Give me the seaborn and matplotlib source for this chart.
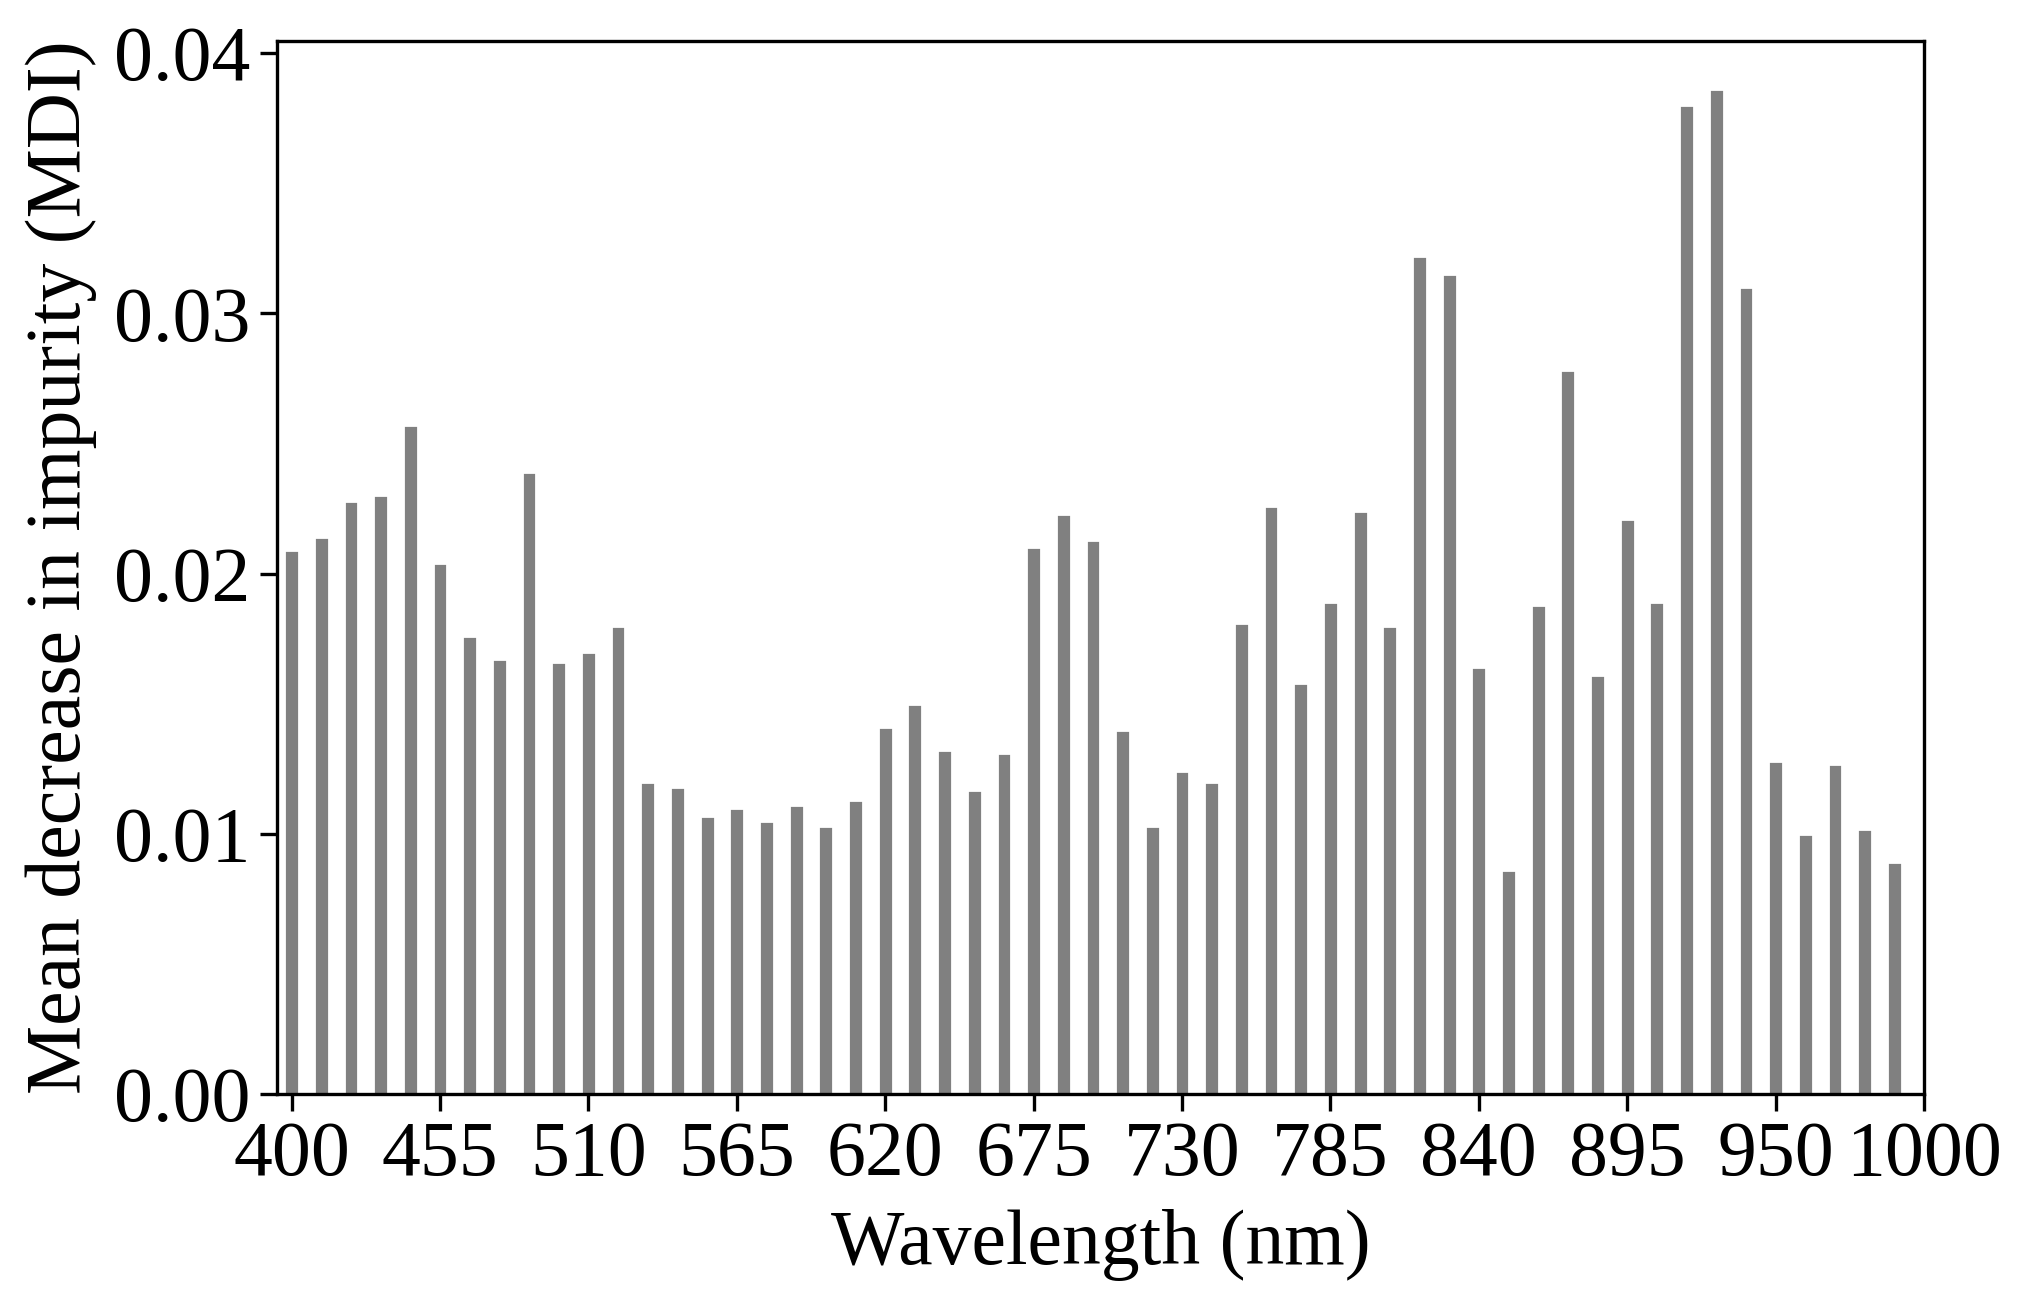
import numpy as np
import pandas as pd
import matplotlib
matplotlib.use("Agg")
import matplotlib.pyplot as plt
import seaborn as sns

# wavelength bands, 11 nm step
wavelengths = [400 + 11 * i for i in range(55)]

mdi = [
    0.0209, 0.0214, 0.0228, 0.0230, 0.0257, 0.0204, 0.0176, 0.0167, 0.0239, 0.0166,
    0.0170, 0.0180, 0.0120, 0.0118, 0.0107, 0.0110, 0.0105, 0.0111, 0.0103, 0.0113,
    0.0141, 0.0150, 0.0132, 0.0117, 0.0131, 0.0210, 0.0223, 0.0213, 0.0140, 0.0103,
    0.0124, 0.0120, 0.0181, 0.0226, 0.0158, 0.0189, 0.0224, 0.0180, 0.0322, 0.0315,
    0.0164, 0.0086, 0.0188, 0.0278, 0.0161, 0.0221, 0.0189, 0.0380, 0.0386, 0.0310,
    0.0128, 0.0100, 0.0127, 0.0102, 0.0089,
]

tick_pos = [0, 5, 10, 15, 20, 25, 30, 35, 40, 45, 50, 55]
tick_labels = ["400", "455", "510", "565", "620", "675", "730", "785",
               "840", "895", "950", "1000"]
y_ticks = [0.00, 0.01, 0.02, 0.03, 0.04]

df = pd.DataFrame({"band": [str(w) for w in wavelengths], "mdi": mdi})

sns.set_style("ticks")
plt.rcParams["font.family"] = ["Liberation Serif", "DejaVu Serif"]
plt.rcParams["axes.linewidth"] = 1.2
plt.rcParams["xtick.major.width"] = 1.2
plt.rcParams["ytick.major.width"] = 1.2
plt.rcParams["xtick.major.size"] = 6
plt.rcParams["ytick.major.size"] = 6
plt.rcParams["axes.labelcolor"] = "black"
plt.rcParams["text.color"] = "black"

fig, ax = plt.subplots(figsize=(10.1, 6.545), dpi=200)
fig.subplots_adjust(left=0.137, right=0.9525, top=0.9687, bottom=0.1642)

sns.barplot(data=df, x="band", y="mdi", color="#808080", saturation=1,
            width=0.5, ax=ax)

ax.set_xlim(-0.5, 55)
ax.set_ylim(0, 0.04046)
ax.set_xticks(tick_pos)
ax.set_xticklabels(tick_labels)
ax.set_yticks(y_ticks)
ax.set_yticklabels([f"{v:.2f}" for v in y_ticks])
ax.tick_params(labelsize=28, colors="black")
ax.set_xlabel("Wavelength (nm)", fontsize=28, labelpad=6, color="black")
ax.set_ylabel("Mean decrease in impurity (MDI)", fontsize=28, labelpad=6,
              color="black")
for s in ax.spines.values():
    s.set_visible(True)
    s.set_color("black")

plt.savefig("out.png", dpi=200)
